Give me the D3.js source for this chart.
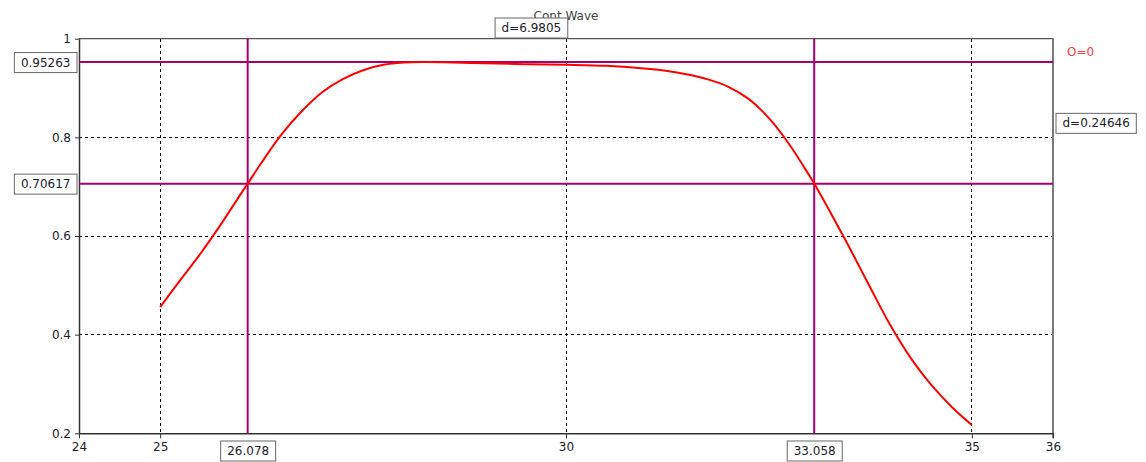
<!DOCTYPE html>
<html><head><meta charset="utf-8">
<script src="https://cdn.jsdelivr.net/npm/d3@7"></script>
<style>
body{margin:0;background:#fff;}
svg{display:block;font-family:"DejaVu Sans",Verdana,sans-serif;}
</style></head>
<body>
<svg id="c" width="1146" height="462"></svg>
<script>
const title = "Cont Wave";
const xTicks = [24, 25, 30, 35, 36];
const yTicks = [0.2, 0.4, 0.6, 0.8, 1];
const waveX = [25.00,25.25,25.50,25.75,26.00,26.078,26.25,26.50,26.75,27.00,27.25,27.50,27.75,28.00,28.25,28.50,29.00,29.50,30.00,30.50,31.00,31.25,31.50,31.75,32.00,32.25,32.50,32.75,33.00,33.058,33.25,33.50,33.75,34.00,34.25,34.50,34.75,35.00];
const waveY = [0.456,0.511,0.565,0.624,0.687,0.706,0.749,0.807,0.854,0.892,0.918,0.936,0.947,0.9515,0.9526,0.9522,0.9500,0.9484,0.9472,0.9450,0.9392,0.9345,0.9275,0.9175,0.9025,0.8780,0.8390,0.7860,0.7220,0.7062,0.6500,0.5740,0.4950,0.4180,0.3520,0.2980,0.2540,0.2168];
const cursorX = [26.078, 33.058];
const cursorY = [0.95263, 0.70617];
const cursorXLabels = ["26.078", "33.058"];
const cursorYLabels = ["0.95263", "0.70617"];
const deltaXLabel = "d=6.9805";
const deltaYLabel = "d=0.24646";
const offsetLabel = "O=0";

const svg = d3.select("#c");
const L = 79, R = 1053, T = 38.7, B = 433.3;
const x = d3.scaleLinear().domain([24, 36]).range([L, R]);
const y = d3.scaleLinear().domain([0.2, 1]).range([B, T]);
const FS = 12;

// title
svg.append("text").attr("x", 566).attr("y", 20).attr("text-anchor", "middle")
  .attr("font-size", FS).attr("fill", "#444").text(title);

// grid
const g = svg.append("g");
g.selectAll(".vg").data(xTicks.filter(v => v > 24 && v < 36)).join("line")
  .attr("x1", d => x(d)).attr("x2", d => x(d)).attr("y1", T).attr("y2", B)
  .attr("stroke", "#000").attr("stroke-width", 1).attr("stroke-dasharray", "3,3").attr("shape-rendering", "crispEdges");
g.selectAll(".hg").data(yTicks.filter(v => v > 0.2 && v < 1)).join("line")
  .attr("x1", L).attr("x2", R).attr("y1", d => y(d)).attr("y2", d => y(d))
  .attr("stroke", "#000").attr("stroke-width", 1).attr("stroke-dasharray", "3,3").attr("shape-rendering", "crispEdges");

// frame top and right
svg.append("line").attr("x1", L).attr("x2", R).attr("y1", T).attr("y2", T)
  .attr("stroke", "#555").attr("stroke-width", 1.3);
svg.append("line").attr("x1", R).attr("x2", R).attr("y1", T - 0.5).attr("y2", B + 5)
  .attr("stroke", "#7a7a7a").attr("stroke-width", 2);

// axes
const xAxis = d3.axisBottom(x).tickValues(xTicks).tickFormat(d3.format("d")).tickSize(5).tickSizeOuter(0);
const gx = svg.append("g").attr("transform", `translate(0,${B})`).call(xAxis);
gx.select(".domain").attr("stroke", "#333").attr("stroke-width", 1.5);
gx.selectAll(".tick line").attr("stroke", "#333");
gx.selectAll(".tick text").attr("font-size", FS).attr("font-family", "DejaVu Sans").attr("fill", "#1c1c2c").attr("dy", "1.0em").attr("y", 6);

const yAxis = d3.axisLeft(y).tickValues(yTicks).tickFormat(d => d3.format("")(+d.toFixed(1))).tickSize(4).tickSizeOuter(0);
const gy = svg.append("g").attr("transform", `translate(${L},0)`).call(yAxis);
gy.select(".domain").attr("stroke", "#333").attr("stroke-width", 1.5);
gy.selectAll(".tick line").attr("stroke", "#333");
gy.selectAll(".tick text").attr("font-size", FS).attr("font-family", "DejaVu Sans").attr("fill", "#1c1c2c").attr("x", -8);

// cursors
const CC = "#a5006e";
svg.selectAll(".cx").data(cursorX).join("line")
  .attr("x1", d => x(d)).attr("x2", d => x(d)).attr("y1", T).attr("y2", B)
  .attr("stroke", CC).attr("stroke-width", 2);
svg.selectAll(".cy").data(cursorY).join("line")
  .attr("x1", L).attr("x2", R).attr("y1", d => y(d)).attr("y2", d => y(d))
  .attr("stroke", CC).attr("stroke-width", 2);

// curve
const pts = waveX.map((v, i) => [v, waveY[i]]);
svg.append("path").datum(pts)
  .attr("d", d3.line().x(d => x(d[0])).y(d => y(d[1])).curve(d3.curveCatmullRom.alpha(0.5)))
  .attr("fill", "none").attr("stroke", "#ff0000").attr("stroke-width", 2);

// boxed labels
function box(txt, cx, cy, anchor) {
  const grp = svg.append("g");
  const t = grp.append("text").attr("font-size", FS).attr("fill", "#1c1c2c").text(txt);
  const w = t.node().getComputedTextLength();
  const bw = w + 13, bh = 20;
  let bx;
  if (anchor === "right") bx = cx - bw;
  else if (anchor === "left") bx = cx;
  else bx = cx - bw / 2;
  const by = cy - bh / 2;
  grp.insert("rect", "text").attr("x", bx + 0.5).attr("y", by + 0.5).attr("width", bw).attr("height", bh)
    .attr("fill", "#fff").attr("stroke", "#666").attr("stroke-width", 1);
  t.attr("x", bx + 0.5 + bw / 2).attr("y", by + 0.5 + bh / 2).attr("text-anchor", "middle").attr("dominant-baseline", "central");
}
cursorY.forEach((v, i) => box(cursorYLabels[i], 76.5, y(v), "right"));
cursorX.forEach((v, i) => box(cursorXLabels[i], x(v), 450.5, "mid"));
box(deltaXLabel, x((cursorX[0] + cursorX[1]) / 2), 27.5, "mid");
box(deltaYLabel, 1055.5, (y(cursorY[0]) + y(cursorY[1])) / 2, "left");

svg.append("text").attr("x", 1067).attr("y", 52).attr("dominant-baseline", "central")
  .attr("font-size", FS).attr("fill", "#ff4040").text(offsetLabel);
</script>
</body></html>
